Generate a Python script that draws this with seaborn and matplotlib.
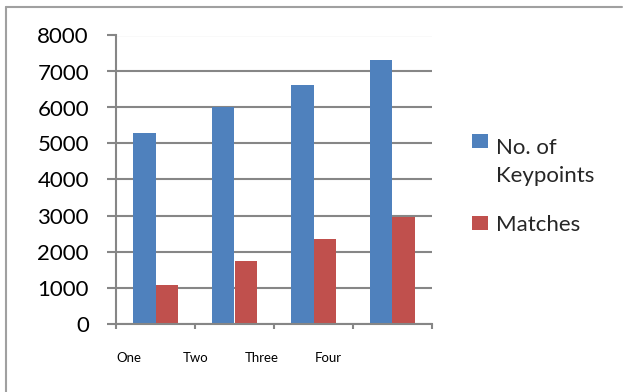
import matplotlib
matplotlib.use("Agg")
import matplotlib.pyplot as plt
from matplotlib.lines import Line2D
from matplotlib.patches import Patch, Rectangle
from matplotlib.legend_handler import HandlerPatch
import numpy as np
import pandas as pd
import seaborn as sns

# Data
categories = ["One", "Two", "Three", "Four"]
keypoints = [5300, 6000, 6630, 7330]
matches = [1070, 1740, 2340, 2970]
series_names = ["No. of\nKeypoints", "Matches"]
y_ticks = [0, 1000, 2000, 3000, 4000, 5000, 6000, 7000, 8000]

BLUE = "#4F81BD"
RED = "#C0504D"
GRID = "#868686"

df = pd.DataFrame({
    "category": categories * 2,
    "value": keypoints + matches,
    "series": [series_names[0]] * len(categories) + [series_names[1]] * len(categories),
})

sns.set_theme(style="white")
plt.rcParams["font.family"] = ["Lato", "DejaVu Sans"]

W, H = 623, 392
fig = plt.figure(figsize=(W / 100, H / 100), dpi=100)
ax = fig.add_axes([116 / W, (H - 323.5) / H, (432 - 116) / W, (323.5 - 35.5) / H])

sns.barplot(data=df, x="category", y="value", hue="series", order=categories,
            hue_order=series_names, palette=[BLUE, RED], saturation=1,
            width=0.58, linewidth=0, ax=ax, legend=False)

ax.set_ylim(0, 8000)
ax.set_xlim(-0.5, len(categories) - 0.5)
ax.set_yticks(y_ticks)
ax.set_yticklabels([str(t) for t in y_ticks])
ax.set_xlabel("")
ax.set_ylabel("")

# Horizontal gridlines
ax.yaxis.grid(True, color=GRID, linewidth=1.5)
ax.xaxis.grid(False)
ax.set_axisbelow(True)

for side in ["top", "right"]:
    ax.spines[side].set_visible(False)
for side in ["left", "bottom"]:
    ax.spines[side].set_color(GRID)
    ax.spines[side].set_linewidth(1.5)

ax.tick_params(axis="y", which="major", direction="out", length=6.5, width=1.5,
               color=GRID, pad=13, labelsize=16, labelcolor="black", left=True)

# Category boundary ticks and labels
ax.set_xticks(np.arange(-0.5, len(categories)), minor=True)
ax.tick_params(axis="x", which="minor", direction="out", length=3.8, width=1.5,
               color=GRID, bottom=True)
label_x = np.arange(len(categories)) * 0.84 - 0.335
ax.set_xticks(label_x)
ax.set_xticklabels(categories)
ax.tick_params(axis="x", which="major", length=0, pad=20.5, labelsize=9.5,
               labelcolor="black")


# Legend: the key square of a two-line label sits beside its first line
def top_aligned_square(lift):
    def make(legend, orig_handle, xdescent, ydescent, width, height, fontsize):
        return Rectangle((-xdescent, -ydescent + lift), width, height)
    return HandlerPatch(patch_func=make)


handles = [Patch(facecolor=BLUE, edgecolor="none"), Patch(facecolor=RED, edgecolor="none")]
leg = fig.legend(handles, series_names, loc="upper left",
                 bbox_to_anchor=(452 / W, 1 - 118 / H), frameon=False,
                 fontsize=16, handlelength=0.72, handleheight=0.585,
                 handletextpad=0.36, labelspacing=1.3,
                 handler_map={handles[0]: top_aligned_square(15)})
for t in leg.get_texts():
    t.set_linespacing(1.5)

# Outer frame lines (top and left)
fig.add_artist(Line2D([6 / W, 622 / W], [1 - 7 / H, 1 - 7 / H], color="#A0A0A0",
                      linewidth=1.5, transform=fig.transFigure))
fig.add_artist(Line2D([6 / W, 6 / W], [0, 1 - 7 / H], color="#A0A0A0",
                      linewidth=1.5, transform=fig.transFigure))

fig.savefig("out.png", dpi=100)
